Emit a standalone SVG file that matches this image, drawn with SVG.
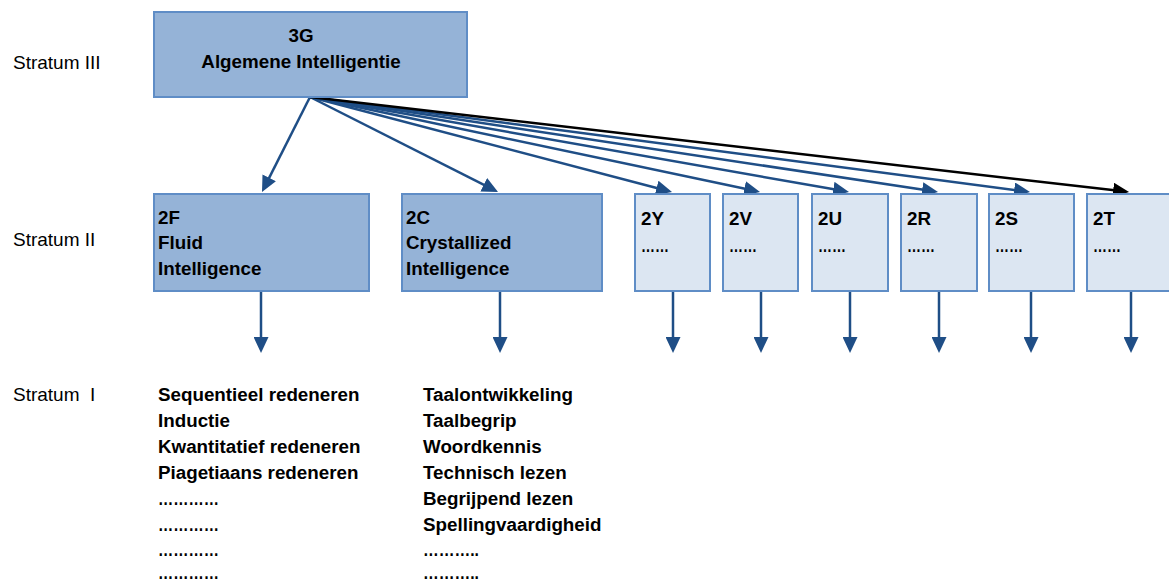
<svg xmlns="http://www.w3.org/2000/svg" width="1169" height="584" viewBox="0 0 1169 584">
<defs>
<style>
.lbl{font-family:"Liberation Sans",Arial,sans-serif;font-size:19px;fill:#000}
.b{font-family:"Liberation Sans",Arial,sans-serif;font-size:18.8px;font-weight:bold;fill:#000}
.dark{fill:#95B3D7;stroke:#5F8DC6;stroke-width:2}
.light{fill:#DCE6F2;stroke:#5F8DC6;stroke-width:2}
.ln{fill:none;stroke:#1F4E86;stroke-width:2.5}
.lnk{fill:none;stroke:#000;stroke-width:2.5}
</style>
<marker id="ah" viewBox="0 0 16 15" markerWidth="16" markerHeight="15" refX="8" refY="7.5" orient="auto" markerUnits="userSpaceOnUse">
<path d="M0,0 L16,7.5 L0,15 Z" fill="#1F4E86"/>
</marker>
<marker id="ahk" viewBox="0 0 16 15" markerWidth="16" markerHeight="15" refX="8" refY="7.5" orient="auto" markerUnits="userSpaceOnUse">
<path d="M0,0 L16,7.5 L0,15 Z" fill="#000"/>
</marker>
</defs>
<rect width="1169" height="584" fill="#fff"/>

<g id="strata">
<text class="lbl" x="13" y="69">Stratum III</text>
<text class="lbl" x="13" y="246">Stratum II</text>
<text class="lbl" x="13" y="401" xml:space="preserve">Stratum  I</text>
</g>

<g id="connectors">
<line class="ln" x1="310" y1="97" x2="265.6" y2="184.9" marker-end="url(#ah)"/>
<line class="ln" x1="310" y1="97" x2="490.9" y2="188.4" marker-end="url(#ah)"/>
<line class="ln" x1="310" y1="97" x2="664.3" y2="190" marker-end="url(#ah)"/>
<line class="ln" x1="310" y1="97" x2="752.2" y2="190.3" marker-end="url(#ah)"/>
<line class="ln" x1="310" y1="97" x2="841.1" y2="190.6" marker-end="url(#ah)"/>
<line class="ln" x1="310" y1="97" x2="930.1" y2="190.8" marker-end="url(#ah)"/>
<line class="ln" x1="310" y1="97" x2="1022.1" y2="191" marker-end="url(#ah)"/>
<line class="lnk" x1="310" y1="97" x2="1121.1" y2="191.1" marker-end="url(#ahk)"/>
<line class="ln" x1="261" y1="291" x2="261" y2="345" marker-end="url(#ah)"/>
<line class="ln" x1="500" y1="291" x2="500" y2="345" marker-end="url(#ah)"/>
<line class="ln" x1="673" y1="291" x2="673" y2="345" marker-end="url(#ah)"/>
<line class="ln" x1="761" y1="291" x2="761" y2="345" marker-end="url(#ah)"/>
<line class="ln" x1="850" y1="291" x2="850" y2="345" marker-end="url(#ah)"/>
<line class="ln" x1="939" y1="291" x2="939" y2="345" marker-end="url(#ah)"/>
<line class="ln" x1="1031" y1="291" x2="1031" y2="345" marker-end="url(#ah)"/>
<line class="ln" x1="1131" y1="291" x2="1131" y2="345" marker-end="url(#ah)"/>
</g>

<g id="n3G">
<rect class="dark" x="154" y="12" width="313" height="85"/>
<text class="b" x="301" y="42" text-anchor="middle">3G</text>
<text class="b" x="301" y="68" text-anchor="middle">Algemene Intelligentie</text>
</g>

<g id="n2F">
<rect class="dark" x="154" y="194" width="215" height="97"/>
<text class="b" x="158" y="224">2F</text>
<text class="b" x="158" y="249">Fluid</text>
<text class="b" x="158" y="275">Intelligence</text>
</g>

<g id="n2C">
<rect class="dark" x="402" y="194" width="200" height="97"/>
<text class="b" x="406" y="224">2C</text>
<text class="b" x="406" y="249">Crystallized</text>
<text class="b" x="406" y="275">Intelligence</text>
</g>

<g id="n2Y">
<rect class="light" x="635" y="194" width="75" height="97"/>
<text class="b" x="641" y="225">2Y</text>
<text class="b" x="641" y="252" textLength="28" lengthAdjust="spacingAndGlyphs">……</text>
</g>
<g id="n2V">
<rect class="light" x="723" y="194" width="75" height="97"/>
<text class="b" x="729" y="225">2V</text>
<text class="b" x="729" y="252" textLength="28" lengthAdjust="spacingAndGlyphs">……</text>
</g>
<g id="n2U">
<rect class="light" x="812" y="194" width="76" height="97"/>
<text class="b" x="818" y="225">2U</text>
<text class="b" x="818" y="252" textLength="28" lengthAdjust="spacingAndGlyphs">……</text>
</g>
<g id="n2R">
<rect class="light" x="901" y="194" width="76" height="97"/>
<text class="b" x="907" y="225">2R</text>
<text class="b" x="907" y="252" textLength="28" lengthAdjust="spacingAndGlyphs">……</text>
</g>
<g id="n2S">
<rect class="light" x="989" y="194" width="85" height="97"/>
<text class="b" x="995" y="225">2S</text>
<text class="b" x="995" y="252" textLength="28" lengthAdjust="spacingAndGlyphs">……</text>
</g>
<g id="n2T">
<rect class="light" x="1087" y="194" width="100" height="97"/>
<text class="b" x="1093" y="225">2T</text>
<text class="b" x="1093" y="252" textLength="28" lengthAdjust="spacingAndGlyphs">……</text>
</g>

<g id="list2F">
<text class="b" x="158" y="401">Sequentieel redeneren</text>
<text class="b" x="158" y="427">Inductie</text>
<text class="b" x="158" y="453">Kwantitatief redeneren</text>
<text class="b" x="158" y="479">Piagetiaans redeneren</text>
<text class="b" x="158" y="505" textLength="61" lengthAdjust="spacingAndGlyphs">…………</text>
<text class="b" x="158" y="531" textLength="61" lengthAdjust="spacingAndGlyphs">…………</text>
<text class="b" x="158" y="556" textLength="61" lengthAdjust="spacingAndGlyphs">…………</text>
<text class="b" x="158" y="579" textLength="61" lengthAdjust="spacingAndGlyphs">…………</text>
</g>

<g id="list2C">
<text class="b" x="423" y="401">Taalontwikkeling</text>
<text class="b" x="423" y="427">Taalbegrip</text>
<text class="b" x="423" y="453">Woordkennis</text>
<text class="b" x="423" y="479">Technisch lezen</text>
<text class="b" x="423" y="505">Begrijpend lezen</text>
<text class="b" x="423" y="531">Spellingvaardigheid</text>
<text class="b" x="423" y="556" textLength="56" lengthAdjust="spacingAndGlyphs">………..</text>
<text class="b" x="423" y="579" textLength="56" lengthAdjust="spacingAndGlyphs">………..</text>
</g>
</svg>
